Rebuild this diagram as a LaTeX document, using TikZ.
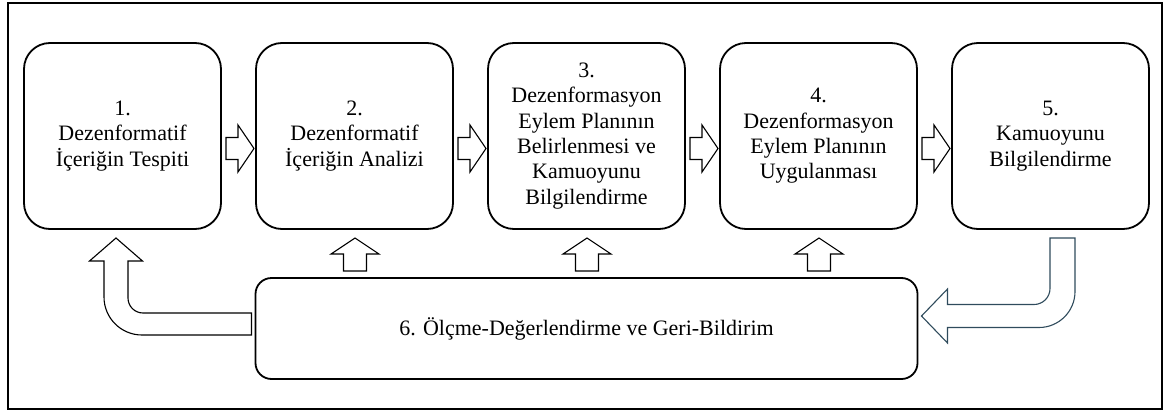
\documentclass[tikz,border=0pt]{standalone}
\usepackage{fontspec}
\setmainfont{Liberation Serif}
\usetikzlibrary{positioning,calc}
\definecolor{slate}{RGB}{47,75,92}
\tikzset{%
  every stage/.style={
    draw,
    rounded corners=13pt,
    line width=0.9pt,
    align=center,
    outer sep=0pt,
    font=\fontsize{11}{12.65}\selectfont
  },
  hollow/.style={
    draw,
    fill=white,
    line width=0.55pt,
    line join=miter
  },
}
% block arrow between two stages
\newcommand{\flowright}[2]{%
  \draw[hollow] ($(#1.east)+(5,-1.5)$) -- ($(#1.east)+(17,-1.5)$) -- ($(#1.east)+(17,11)$)
    -- ($(#2.west)+(-2,-12.5)$) -- ($(#1.east)+(17,-36)$) -- ($(#1.east)+(17,-23.5)$)
    -- ($(#1.east)+(5,-23.5)$) -- cycle;}
% block arrow from the feedback box up to a stage
\newcommand{\flowup}[2]{%
  \draw[hollow] ($(#2.south |- #1.north)+(-11,7)$) -- ($(#2.south)+(-11,-25)$)
    -- ($(#2.south)+(-23.5,-25)$) -- ($(#2.south)+(0.5,-9)$) -- ($(#2.south)+(24.5,-25)$)
    -- ($(#2.south)+(12,-25)$) -- ($(#2.south |- #1.north)+(12,7)$) -- cycle;}

\begin{document}
\begin{tikzpicture}[x=0.5pt,y=0.5pt]
        \tikzstyle{stage}=[every stage,minimum width=98.5pt,minimum height=93pt]
        \useasboundingbox (0,0) rectangle (1167,-412);
        \draw[line width=1pt] (8,-3) rectangle (1162,-409);

        \node[stage] (step1) at (122.5,-136) {1.\\Dezenformatif\\İçeriğin Tespiti};
        \node[stage,right=17.5pt of step1] (step2) {2.\\Dezenformatif\\İçeriğin Analizi};
        \node[stage,right=17.5pt of step2] (step3) {3.\\Dezenformasyon\\Eylem Planının\\Belirlenmesi ve\\Kamuoyunu\\Bilgilendirme};
        \node[stage,right=17.5pt of step3] (step4) {4.\\Dezenformasyon\\Eylem Planının\\Uygulanması};
        \node[stage,right=17.5pt of step4] (step5) {5.\\Kamuoyunu\\Bilgilendirme};
        \node[every stage,rounded corners=8pt,minimum width=331pt,minimum height=50.5pt,
              below=24.5pt of step3] (feedback) {6. Ölçme-Değerlendirme ve Geri-Bildirim};

        \flowright{step1}{step2}
        \flowright{step2}{step3}
        \flowright{step3}{step4}
        \flowright{step4}{step5}

        \foreach \s in {step2,step3,step4} {\flowup{feedback}{\s}}

        % back to the first stage
        \coordinate (lt) at ($(step1.south)+(-6.5,-9)$);
        \coordinate (le) at ($(feedback.west)+(-4,4.5)$);
        \draw[hollow] ($(le)+(0,11)$) -- ($(lt |- le)+(27,11)$) arc[start angle=270,end angle=180,radius=15]
          -- ($(lt)+(12,-23)$) -- ($(lt)+(26.5,-23)$) -- (lt) -- ($(lt)+(-26.5,-23)$) -- ($(lt)+(-12,-23)$)
          -- ($(lt |- le)+(-12,27)$) arc[start angle=180,end angle=270,radius=38]
          -- ($(le)+(0,-11)$) -- cycle;

        % from the last stage into the feedback box
        \coordinate (rs) at ($(step5.south)+(12,-9)$);
        \coordinate (rt) at ($(feedback.east)+(4,12.5)$);
        \draw[hollow,draw=slate] ($(rs)+(-12.5,0)$) -- ($(rs |- rt)+(-12.5,27.5)$) arc[start angle=0,end angle=-90,radius=16]
          -- ($(rt)+(26,11.5)$) -- ($(rt)+(26,27)$) -- (rt) -- ($(rt)+(26,-27)$) -- ($(rt)+(26,-11.5)$)
          -- ($(rs |- rt)+(-23.5,-11.5)$) arc[start angle=270,end angle=360,radius=36]
          -- ($(rs)+(12.5,0)$) -- cycle;
    \end{tikzpicture}
\end{document}
